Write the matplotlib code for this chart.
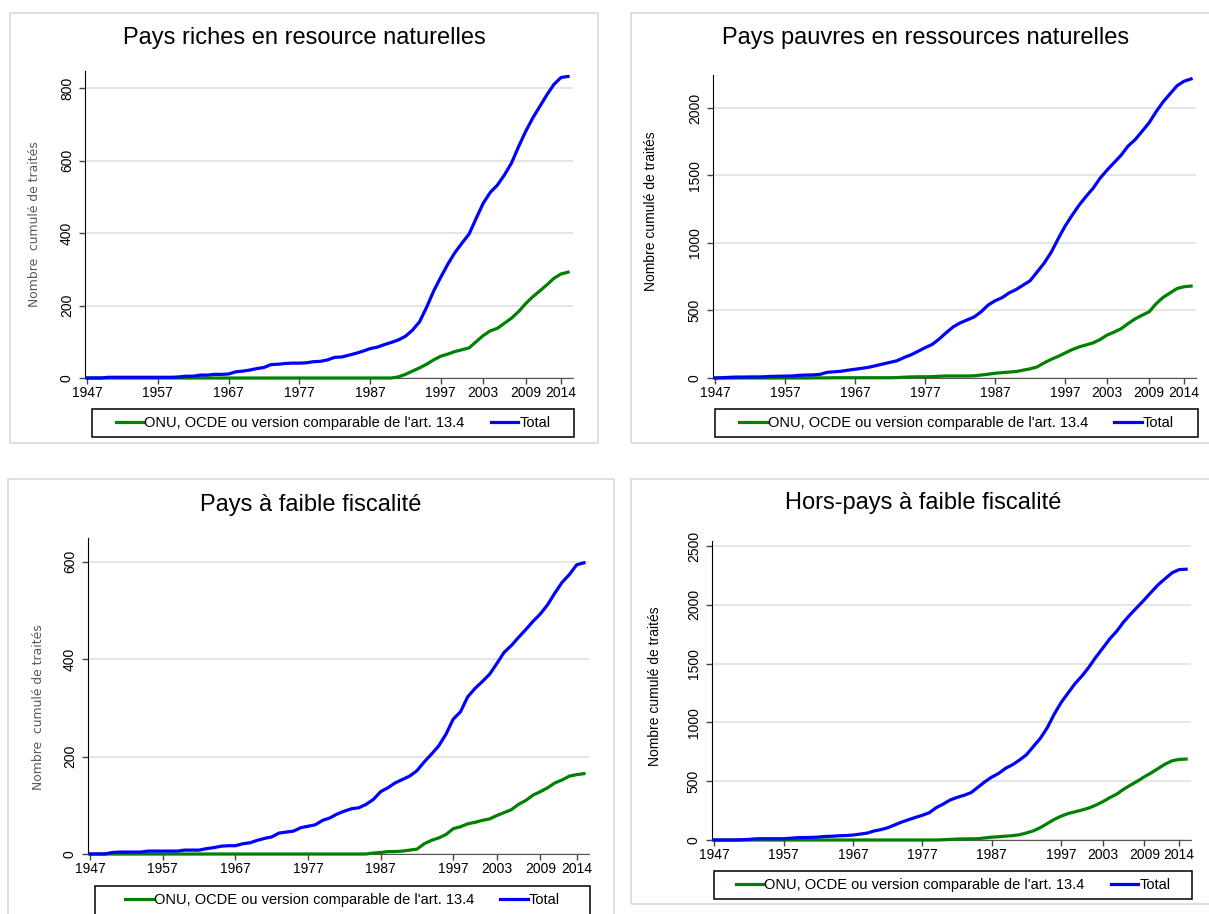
import numpy as np
import matplotlib
matplotlib.use("Agg")
import matplotlib.pyplot as plt
from matplotlib.patches import Rectangle
from matplotlib.lines import Line2D

plt.rcParams["font.family"] = ["Liberation Sans", "DejaVu Sans"]

# cumulative number of treaties per year, 1947-2015
years = np.arange(1947, 2016)
xtick_years = [1947, 1957, 1967, 1977, 1987, 1997, 2003, 2009, 2014]

rich_total = [0, 0, 0, 2, 2, 2, 2, 2, 2, 2,
              2, 2, 2, 3, 5, 5, 8, 8, 10, 10,
              11, 17, 19, 22, 26, 29, 37, 38, 40, 41,
              41, 42, 45, 46, 50, 57, 58, 63, 68, 74,
              81, 85, 92, 98, 105, 115, 132, 155, 195, 240,
              278, 314, 346, 372, 397, 440, 482, 512, 532, 560,
              593, 638, 680, 717, 749, 781, 810, 829, 832]
rich_onu = [0, 0, 0, 0, 0, 0, 0, 0, 0, 0,
            0, 0, 0, 0, 0, 0, 0, 0, 0, 0,
            0, 0, 0, 0, 0, 0, 0, 0, 0, 0,
            0, 0, 0, 0, 0, 0, 0, 0, 0, 0,
            0, 0, 0, 0, 3, 10, 19, 28, 38, 50,
            60, 66, 73, 78, 83, 100, 117, 130, 137, 151,
            165, 183, 205, 224, 240, 257, 275, 287, 292]

poor_total = [0, 2, 5, 7, 7, 8, 8, 9, 12, 13,
              14, 15, 20, 22, 23, 27, 42, 46, 50, 58,
              65, 72, 80, 92, 104, 116, 128, 152, 172, 198,
              225, 248, 288, 335, 378, 408, 430, 452, 490, 540,
              572, 595, 630, 655, 688, 720, 785, 850, 930, 1030,
              1125, 1205, 1280, 1345, 1405, 1480, 1540, 1595, 1650, 1718,
              1765, 1827, 1890, 1972, 2045, 2105, 2165, 2198, 2215]
poor_onu = [0, 0, 0, 0, 0, 0, 0, 0, 0, 0,
            0, 0, 0, 0, 1, 1, 1, 2, 2, 2,
            2, 2, 2, 2, 2, 2, 3, 6, 8, 9,
            9, 10, 13, 15, 15, 15, 15, 16, 22, 28,
            35, 40, 44, 48, 58, 68, 82, 112, 138, 160,
            185, 210, 230, 245, 260, 285, 318, 340, 365, 403,
            438, 465, 490, 550, 597, 630, 663, 676, 681]

low_total = [0, 0, 0, 3, 4, 4, 4, 4, 6, 6,
             6, 6, 6, 8, 8, 8, 11, 13, 16, 17,
             17, 21, 23, 28, 32, 35, 43, 45, 47, 54,
             57, 60, 69, 74, 82, 88, 93, 95, 102, 112,
             128, 136, 146, 153, 160, 171, 189, 205, 222, 246,
             277, 292, 323, 340, 354, 369, 391, 414, 428, 445,
             461, 478, 493, 512, 536, 558, 574, 594, 598]
low_onu = [0, 0, 0, 0, 0, 0, 0, 0, 0, 0,
           0, 0, 0, 0, 0, 0, 0, 0, 0, 0,
           0, 0, 0, 0, 0, 0, 0, 0, 0, 0,
           0, 0, 0, 0, 0, 0, 0, 0, 0, 2,
           3, 5, 5, 6, 8, 10, 21, 28, 33, 40,
           52, 56, 62, 65, 69, 72, 79, 85, 91, 102,
           110, 121, 128, 136, 146, 152, 160, 163, 165]

other_total = [0, 0, 0, 0, 2, 5, 10, 11, 11, 11,
               11, 15, 20, 21, 22, 25, 30, 32, 36, 38,
               42, 50, 58, 76, 88, 104, 128, 152, 172, 192,
               210, 232, 275, 305, 340, 362, 380, 402, 448, 495,
               535, 566, 610, 640, 680, 725, 795, 865, 955, 1070,
               1170, 1250, 1330, 1395, 1470, 1555, 1632, 1710, 1775, 1854,
               1920, 1982, 2044, 2109, 2172, 2223, 2273, 2299, 2302]
other_onu = [0, 0, 0, 0, 0, 0, 0, 0, 0, 0,
             0, 0, 0, 0, 0, 0, 0, 0, 0, 0,
             0, 0, 0, 0, 0, 0, 0, 0, 0, 0,
             0, 0, 0, 2, 5, 8, 9, 10, 11, 18,
             24, 28, 33, 37, 45, 60, 78, 105, 140, 175,
             203, 225, 240, 255, 272, 297, 326, 360, 390, 432,
             467, 501, 538, 572, 609, 646, 674, 685, 688]

legend_labels = ["ONU, OCDE ou version comparable de l'art. 13.4", "Total"]
GREEN = "#008000"
BLUE = "#0000ff"

W, H = 1209, 914


def px_rect(x0, y0, x1, y1):
    # pixel box (origin top-left) -> figure fraction [left, bottom, width, height]
    return [x0 / W, 1 - y1 / H, (x1 - x0) / W, (y1 - y0) / H]


panels = [
    dict(title="Pays riches en resource naturelles", title_xy=(304, 38),
         axes=(85, 71, 573, 378), frame=(10, 13, 598, 443), legend=(92, 409, 574, 437),
         ymax=847, yticks=[0, 200, 400, 600, 800],
         ylabel="Nombre  cumulé de traités", ylabel_gray=True, ylabel_xy=(-0.1025, 0.5),
         onu=rich_onu, total=rich_total),
    dict(title="Pays pauvres en ressources naturelles", title_xy=(926, 38),
         axes=(713, 75, 1196, 378), frame=(631, 13, 1212, 443), legend=(715, 409, 1198, 437),
         ymax=2244, yticks=[0, 500, 1000, 1500, 2000],
         ylabel="Nombre cumulé de traités", ylabel_gray=False, ylabel_xy=(-0.128, 0.551),
         onu=poor_onu, total=poor_total),
    dict(title="Pays à faible fiscalité", title_xy=(311, 505),
         axes=(88, 538, 589, 854), frame=(8, 479, 614, 920), legend=(95, 886, 590, 918),
         ymax=649, yticks=[0, 200, 400, 600],
         ylabel="Nombre  cumulé de traités", ylabel_gray=True, ylabel_xy=(-0.098, 0.465),
         onu=low_onu, total=low_total),
    dict(title="Hors-pays à faible fiscalité", title_xy=(923, 503),
         axes=(712, 541, 1191, 840), frame=(631, 479, 1212, 904), legend=(714, 871, 1192, 899),
         ymax=2542, yticks=[0, 500, 1000, 1500, 2000, 2500],
         ylabel="Nombre cumulé de traités", ylabel_gray=False, ylabel_xy=(-0.119, 0.513),
         onu=other_onu, total=other_total),
]


def draw_panel(fig, p):
    # light grey box around the whole panel
    fig.add_artist(Rectangle(p["frame"][:2], p["frame"][2] - p["frame"][0],
                             p["frame"][3] - p["frame"][1], transform=None,
                             fill=False, edgecolor="#d9d9d9", lw=1.2))
    fig.text(p["title_xy"][0] / W, 1 - p["title_xy"][1] / H, p["title"],
             fontsize=17, ha="center", va="center")

    ax = fig.add_axes(px_rect(*p["axes"]))
    ax.plot(years, p["onu"], color=GREEN, lw=2.3, clip_on=False, zorder=3)
    ax.plot(years, p["total"], color=BLUE, lw=2.3, clip_on=False, zorder=4)
    ax.set_xlim(1946.7, 2015.7)
    ax.set_ylim(0, p["ymax"])
    ax.set_xticks(xtick_years)
    ax.set_yticks(p["yticks"])
    ax.grid(axis="y", color="#dedede", lw=1.1)
    ax.set_axisbelow(True)

    for side in ["top", "right"]:
        ax.spines[side].set_visible(False)
    ax.spines["left"].set_color("black")
    ax.spines["bottom"].set_color("#555555")

    ax.tick_params(direction="out", length=4, width=1, color="#444444",
                   labelsize=10, pad=2)
    ax.tick_params(axis="y", labelrotation=90, pad=4)
    for lab in ax.get_yticklabels():
        lab.set_va("center")

    if p["ylabel_gray"]:
        ax.set_ylabel(p["ylabel"], fontsize=8.9, color="#595959",
                      family="DejaVu Sans", va="center")
    else:
        ax.set_ylabel(p["ylabel"], fontsize=10, color="black", va="center")
    ax.yaxis.set_label_coords(*p["ylabel_xy"])

    # legend: black box below the axes
    lx0, ly0, lx1, ly1 = p["legend"]
    fig.add_artist(Rectangle((lx0, H - ly1), lx1 - lx0, ly1 - ly0, transform=None,
                             fill=False, edgecolor="black", lw=1.1))
    handles = [Line2D([], [], color=GREEN, lw=2.3), Line2D([], [], color=BLUE, lw=2.3)]
    fig.legend(handles, legend_labels, loc="center",
               bbox_to_anchor=((lx0 + lx1) / 2 / W, 1 - (ly0 + 14) / H),
               ncol=2, frameon=False, fontsize=10.5, handlelength=1.9,
               handletextpad=0.05, columnspacing=1.8, borderpad=0)
    return ax


fig = plt.figure(figsize=(W / 100, H / 100), dpi=100)
for p in panels:
    # frame rectangles are given top-left in pixels; flip to display coords
    x0, y0, x1, y1 = p["frame"]
    p["frame"] = (x0, H - y1, x1, H - y0)
    draw_panel(fig, p)

fig.savefig("out.png", dpi=100)
